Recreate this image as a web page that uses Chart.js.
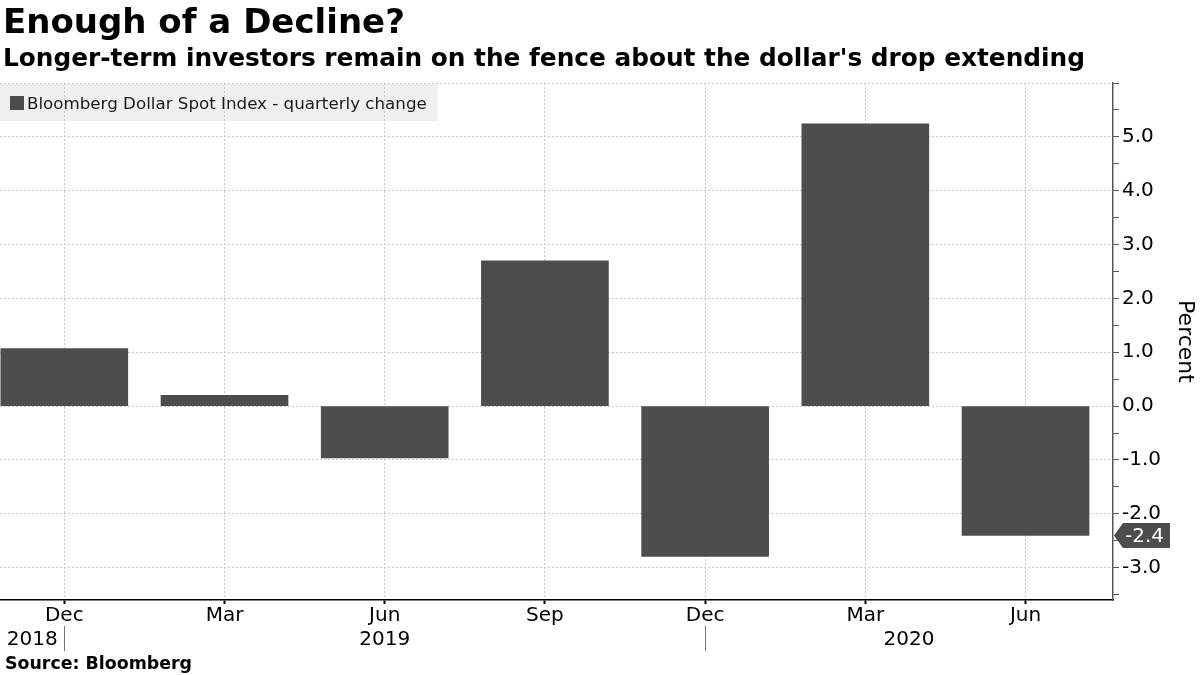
<!doctype html>
<html lang="en">

<head>
    <meta charset="utf-8">
    <title>Enough of a Decline?</title>
    <script src="https://cdn.jsdelivr.net/npm/chart.js"></script>
    <style>
        html, body { margin: 0; padding: 0; background: #fff; }
        #wrap { position: relative; width: 1200px; height: 675px; overflow: hidden; font-family: 'DejaVu Sans', sans-serif; color: #000; }
        #chart { position: absolute; left: 0; top: 0; }
        .txt { position: absolute; white-space: nowrap; font-weight: bold; }
        #title { left: 3px; top: 4px; font-size: 34px; line-height: 34px; }
        #subtitle { left: 3px; top: 46px; font-size: 24.8px; line-height: 24.8px; }
        #source { left: 5px; top: 655px; font-size: 17.4px; line-height: 17px; }
    </style>
</head>

<body>
    <div id="wrap">
        <canvas id="chart" width="1200" height="675"></canvas>
        <div class="txt" id="title">Enough of a Decline?</div>
        <div class="txt" id="subtitle">Longer-term investors remain on the fence about the dollar's drop extending</div>
        <div class="txt" id="source">Source: Bloomberg</div>
    </div>

    <script>
        // quarter-end labels and the quarterly change of the index (%)
        const months = ['Dec', 'Mar', 'Jun', 'Sep', 'Dec', 'Mar', 'Jun'];
        const years = ['2018', '2019', '2020'];
        const yearEnds = [0, 4];          // index of the Dec quarter that closes each year
        const changes = [1.07, 0.2, -0.96, 2.7, -2.79, 5.24, -2.4];
        const seriesName = 'Bloomberg Dollar Spot Index - quarterly change';

        const FONT = "'DejaVu Sans', sans-serif";
        const BAR = '#4d4d4d';
        const GRID = '#c8c8c8';

        const extras = {
            id: 'extras',
            beforeDraw(chart) {
                const ctx = chart.ctx;
                ctx.save();
                ctx.fillStyle = '#efefef';
                ctx.fillRect(0, 84, 438, 37);
                ctx.restore();
            },
            afterDatasetsDraw(chart) {
                const { ctx, chartArea } = chart;
                const x = chart.scales.x, y = chart.scales.y;
                ctx.save();

                // legend
                ctx.fillStyle = BAR;
                ctx.fillRect(10, 96, 14, 14);
                ctx.fillStyle = '#1a1a1a';
                ctx.font = '16.7px ' + FONT;
                ctx.textBaseline = 'alphabetic';
                ctx.fillText(seriesName, 27, 109);

                // year row
                ctx.fillStyle = '#000';
                ctx.font = '20px ' + FONT;
                ctx.textAlign = 'center';
                const edges = [chartArea.left, ...yearEnds.map(i => x.getPixelForValue(i)), chartArea.right];
                years.forEach((yr, i) => {
                    ctx.fillText(yr, (edges[i] + edges[i + 1]) / 2, 645);
                });
                ctx.strokeStyle = '#777';
                ctx.lineWidth = 1;
                yearEnds.forEach(i => {
                    const px = Math.round(x.getPixelForValue(i)) + 0.5;
                    ctx.beginPath();
                    ctx.moveTo(px, 626);
                    ctx.lineTo(px, 651);
                    ctx.stroke();
                });

                // last value tag on the axis
                const last = changes[changes.length - 1];
                const py = y.getPixelForValue(last);
                const x0 = chartArea.right + 1;
                ctx.fillStyle = BAR;
                ctx.beginPath();
                ctx.moveTo(x0, py);
                ctx.lineTo(x0 + 9, py - 12.5);
                ctx.lineTo(x0 + 56, py - 12.5);
                ctx.lineTo(x0 + 56, py + 12.5);
                ctx.lineTo(x0 + 9, py + 12.5);
                ctx.closePath();
                ctx.fill();
                ctx.fillStyle = '#fff';
                ctx.textAlign = 'left';
                ctx.textBaseline = 'middle';
                ctx.fillText(last.toFixed(1), x0 + 11, py + 1);

                ctx.restore();
            }
        };

        new Chart(document.getElementById('chart'), {
            type: 'bar',
            data: {
                datasets: [{
                    label: seriesName,
                    data: changes.map((v, i) => ({ x: i, y: v })),
                    backgroundColor: BAR,
                    borderWidth: 0,
                    barThickness: 127
                }]
            },
            options: {
                responsive: false,
                animation: false,
                devicePixelRatio: 1,
                layout: { padding: { top: 83, left: 0, right: 0, bottom: 0 } },
                plugins: { legend: { display: false }, tooltip: { enabled: false } },
                scales: {
                    x: {
                        type: 'linear',
                        position: 'bottom',
                        offset: false,
                        min: -0.4014,
                        max: 6.546,
                        afterBuildTicks: s => { s.ticks = months.map((m, i) => ({ value: i })); },
                        afterFit: s => { s.height = 75; },
                        grid: { offset: false, color: GRID, tickColor: '#000', tickLength: 4, tickWidth: 2 },
                        border: { color: '#000', width: 1.5, dash: [2, 2] },
                        ticks: {
                            autoSkip: false, maxRotation: 0, padding: 0,
                            color: '#000', font: { family: FONT, size: 20 },
                            callback: v => months[v]
                        }
                    },
                    y: {
                        position: 'right',
                        min: -3.6,
                        max: 6,
                        afterBuildTicks: s => {
                            const t = [];
                            for (let v = -3.5; v <= 6; v += 0.5) t.push({ value: v });
                            s.ticks = t;
                        },
                        afterFit: s => { s.width = 87; },
                        grid: {
                            color: c => Number.isInteger(c.tick.value) ? GRID : 'rgba(0,0,0,0)',
                            tickColor: '#555', tickLength: 6
                        },
                        border: { color: '#555', width: 1.5, dash: [2, 2] },
                        ticks: {
                            padding: 3, color: '#000', font: { family: FONT, size: 20 },
                            callback: v => (Number.isInteger(v) && v < 6) ? v.toFixed(1) : ''
                        },
                        title: {
                            display: true, text: 'Percent', color: '#000',
                            font: { family: FONT, size: 22 }, padding: 2
                        }
                    }
                }
            },
            plugins: [extras]
        });
    </script>
</body>

</html>
